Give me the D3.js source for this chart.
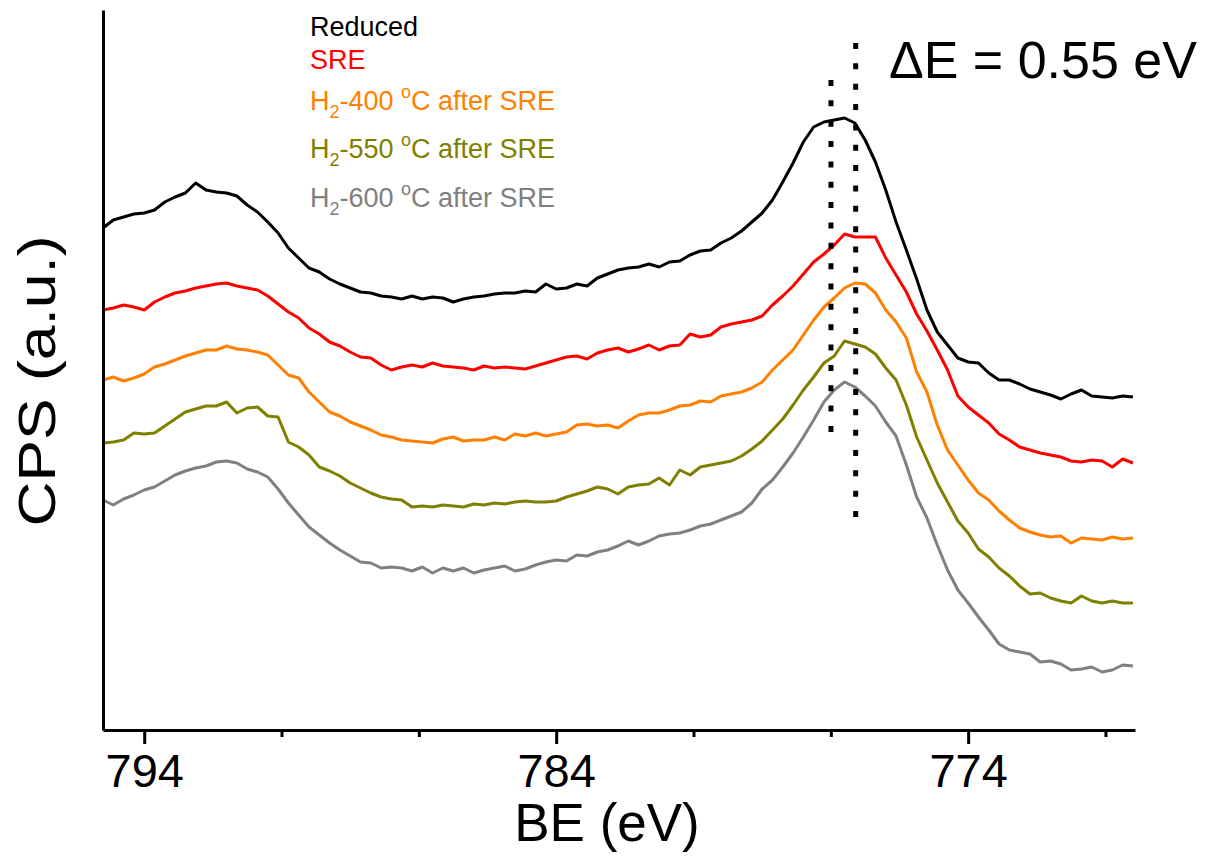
<!DOCTYPE html>
<html>
<head>
<meta charset="utf-8">
<script src="https://cdn.jsdelivr.net/npm/d3@7"></script>
<style>
  body { margin: 0; background: #fff; }
  svg { font-family: Arial, "Liberation Sans", sans-serif; }
</style>
</head>
<body>
<div id="chart"></div>
<script>
// binding energy grid (eV), 0.25 eV steps from 795 down to 770
var be = d3.range(0, 101).map(function(i) { return +(795 - i * 0.25).toFixed(2); });

// intensities (a.u., offset traces)
var reduced = [502,510,513,516,517,520,528,533,537,547,540,538,537,534,525,518,508,497,482,472,
  462,458,451,446,442,438,437,434,433,431,434,431,433,432,428,431,433,434,436,437,
  437,439,438,446,441,442,446,444,452,456,460,462,463,466,463,468,469,475,479,480,
  487,492,499,508,517,530,548,567,588,603,608,610,612,607,590,568,540,508,480,451,
  420,398,385,372,368,367,357,350,350,346,341,338,335,331,336,340,334,333,332,334,333];
var sre = [420,422,425,423,420,428,433,437,439,442,444,446,447,444,442,440,434,426,418,412,
  402,396,388,384,378,373,372,365,360,363,365,363,367,364,363,362,360,364,362,363,
  362,361,364,367,370,373,374,371,377,380,382,378,381,385,380,384,385,396,393,395,
  403,406,408,410,414,425,434,444,456,468,476,485,496,493,493,493,472,455,438,416,
  399,380,360,334,323,315,307,296,290,283,280,277,275,273,269,268,270,269,263,271,267];
var h2_400 = [350,353,349,352,356,363,366,370,374,377,380,380,384,381,380,378,375,365,355,352,
  338,328,318,314,308,304,300,295,293,290,289,288,287,291,293,289,290,290,293,290,
  296,294,297,294,296,298,305,306,304,305,302,309,315,317,317,320,324,325,329,328,
  334,336,338,342,348,360,370,380,395,410,423,432,442,447,446,437,420,408,392,358,
  338,305,280,265,250,237,230,219,210,202,198,195,193,194,187,192,191,190,193,191,192];
var h2_550 = [287,288,290,297,296,297,304,311,318,321,324,324,328,317,322,323,314,313,288,283,
  275,263,259,254,247,242,237,233,231,230,223,224,223,225,224,223,226,225,227,226,
  228,229,228,228,229,233,236,239,243,241,236,243,245,246,252,245,260,255,263,265,
  267,269,274,281,289,300,311,325,340,353,367,374,389,386,383,376,362,350,325,293,
  270,247,228,209,197,181,173,162,154,144,136,137,132,129,127,134,129,127,129,127,127];
var h2_600 = [230,225,231,235,240,243,249,255,259,262,264,268,269,267,261,258,253,241,227,215,
  203,195,187,180,174,168,167,162,163,162,159,163,157,162,159,162,157,160,162,164,
  159,161,165,168,170,169,175,174,178,180,184,189,185,189,194,196,197,200,204,206,
  210,214,218,227,241,250,263,277,293,310,328,340,348,343,334,324,308,294,265,233,
  212,185,160,140,127,113,100,86,80,78,76,68,69,66,60,61,63,58,60,65,64];

var seriesNames = ["Reduced", "SRE", "H2-400", "H2-550", "H2-600"];
var seriesColors = ["#000000", "#ff0000", "#ff8000", "#808000", "#808080"];
var seriesValues = [reduced, sre, h2_400, h2_550, h2_600];

// legend labels: [main, subscript, rest-before-degree, superscript, rest]
var legendParts = [
  ["Reduced"],
  ["SRE"],
  ["H", "2", "-400 ", "o", "C after SRE"],
  ["H", "2", "-550 ", "o", "C after SRE"],
  ["H", "2", "-600 ", "o", "C after SRE"]
];
var legendBaselines = [36, 69, 110, 158, 207];

var majorTicks = [794, 784, 774];
var minorTicks = [790.667, 787.333, 780.667, 777.333, 770.667];

// peak positions marked by the dotted lines
var peakPositions = [777.33, 776.73];
var peakLineTops = [80, 43];
var peakLineBottoms = [433, 518];

var svgWidth = 1210;
var svgHeight = 858;
var margin = { top: 10, right: 75, bottom: 128, left: 103 };

var svg = d3.select("#chart").append("svg")
  .attr("width", svgWidth)
  .attr("height", svgHeight);

var x = d3.scaleLinear()
  .domain([795, 769.95])
  .range([margin.left, svgWidth - margin.right]);

var y = d3.scaleLinear()
  .domain([0, 720])
  .range([svgHeight - margin.bottom, margin.top]);

// curves
var line = d3.line()
  .x(function(d) { return x(d[0]); })
  .y(function(d) { return y(d[1]); });

seriesValues.forEach(function(vals, k) {
  svg.append("path")
    .datum(be.map(function(b, i) { return [b, vals[i]]; }))
    .attr("fill", "none")
    .attr("stroke", seriesColors[k])
    .attr("stroke-width", 3)
    .attr("stroke-linejoin", "round")
    .attr("d", line);
});

// dotted peak markers
peakPositions.forEach(function(p, k) {
  svg.append("line")
    .attr("x1", x(p)).attr("x2", x(p))
    .attr("y1", peakLineTops[k]).attr("y2", peakLineBottoms[k])
    .attr("stroke", "#000")
    .attr("stroke-width", 5)
    .attr("stroke-dasharray", "6,14.35");
});

// axes
var xAxis = svg.append("g")
  .attr("transform", "translate(0," + y(0) + ")")
  .call(d3.axisBottom(x).tickValues(majorTicks).tickSize(14).tickPadding(10).tickSizeOuter(0));
xAxis.select(".domain").attr("stroke-width", 3);
xAxis.selectAll(".tick line").attr("stroke-width", 3);
xAxis.selectAll(".tick text")
  .attr("font-size", "47px")
  .attr("font-family", "Arial, 'Liberation Sans', sans-serif")
  .attr("fill", "#000");

var xMinor = svg.append("g")
  .attr("transform", "translate(0," + y(0) + ")")
  .call(d3.axisBottom(x).tickValues(minorTicks).tickSize(7).tickFormat("").tickSizeOuter(0));
xMinor.select(".domain").remove();
xMinor.selectAll(".tick line").attr("stroke-width", 3);

var yAxis = svg.append("g")
  .attr("transform", "translate(" + margin.left + ",0)")
  .call(d3.axisLeft(y).tickValues([]).tickSizeOuter(0));
yAxis.select(".domain").attr("stroke-width", 3);

// axis titles
svg.append("text")
  .attr("x", 607)
  .attr("y", 841)
  .attr("text-anchor", "middle")
  .attr("font-size", "53px")
  .text("BE (eV)");

svg.append("text")
  .attr("transform", "translate(55,381) rotate(-90) scale(1.2,1)")
  .attr("text-anchor", "middle")
  .attr("font-size", "52px")
  .text("CPS (a.u.)");

// delta E annotation
svg.append("text")
  .attr("x", 889)
  .attr("y", 78)
  .attr("font-size", "52px")
  .text("\u0394E = 0.55 eV");

// legend
legendParts.forEach(function(parts, k) {
  var t = svg.append("text")
    .attr("x", 310)
    .attr("y", legendBaselines[k])
    .attr("font-size", "27px")
    .attr("fill", seriesColors[k]);
  if (parts.length === 1) {
    t.text(parts[0]);
    return;
  }
  t.append("tspan").text(parts[0]);
  t.append("tspan").attr("font-size", "18px").attr("dy", 8).text(parts[1]);
  t.append("tspan").attr("dy", -8).text(parts[2]);
  t.append("tspan").attr("font-size", "18px").attr("dy", -12).text(parts[3]);
  t.append("tspan").attr("dy", 12).text(parts[4]);
});
</script>
</body>
</html>
